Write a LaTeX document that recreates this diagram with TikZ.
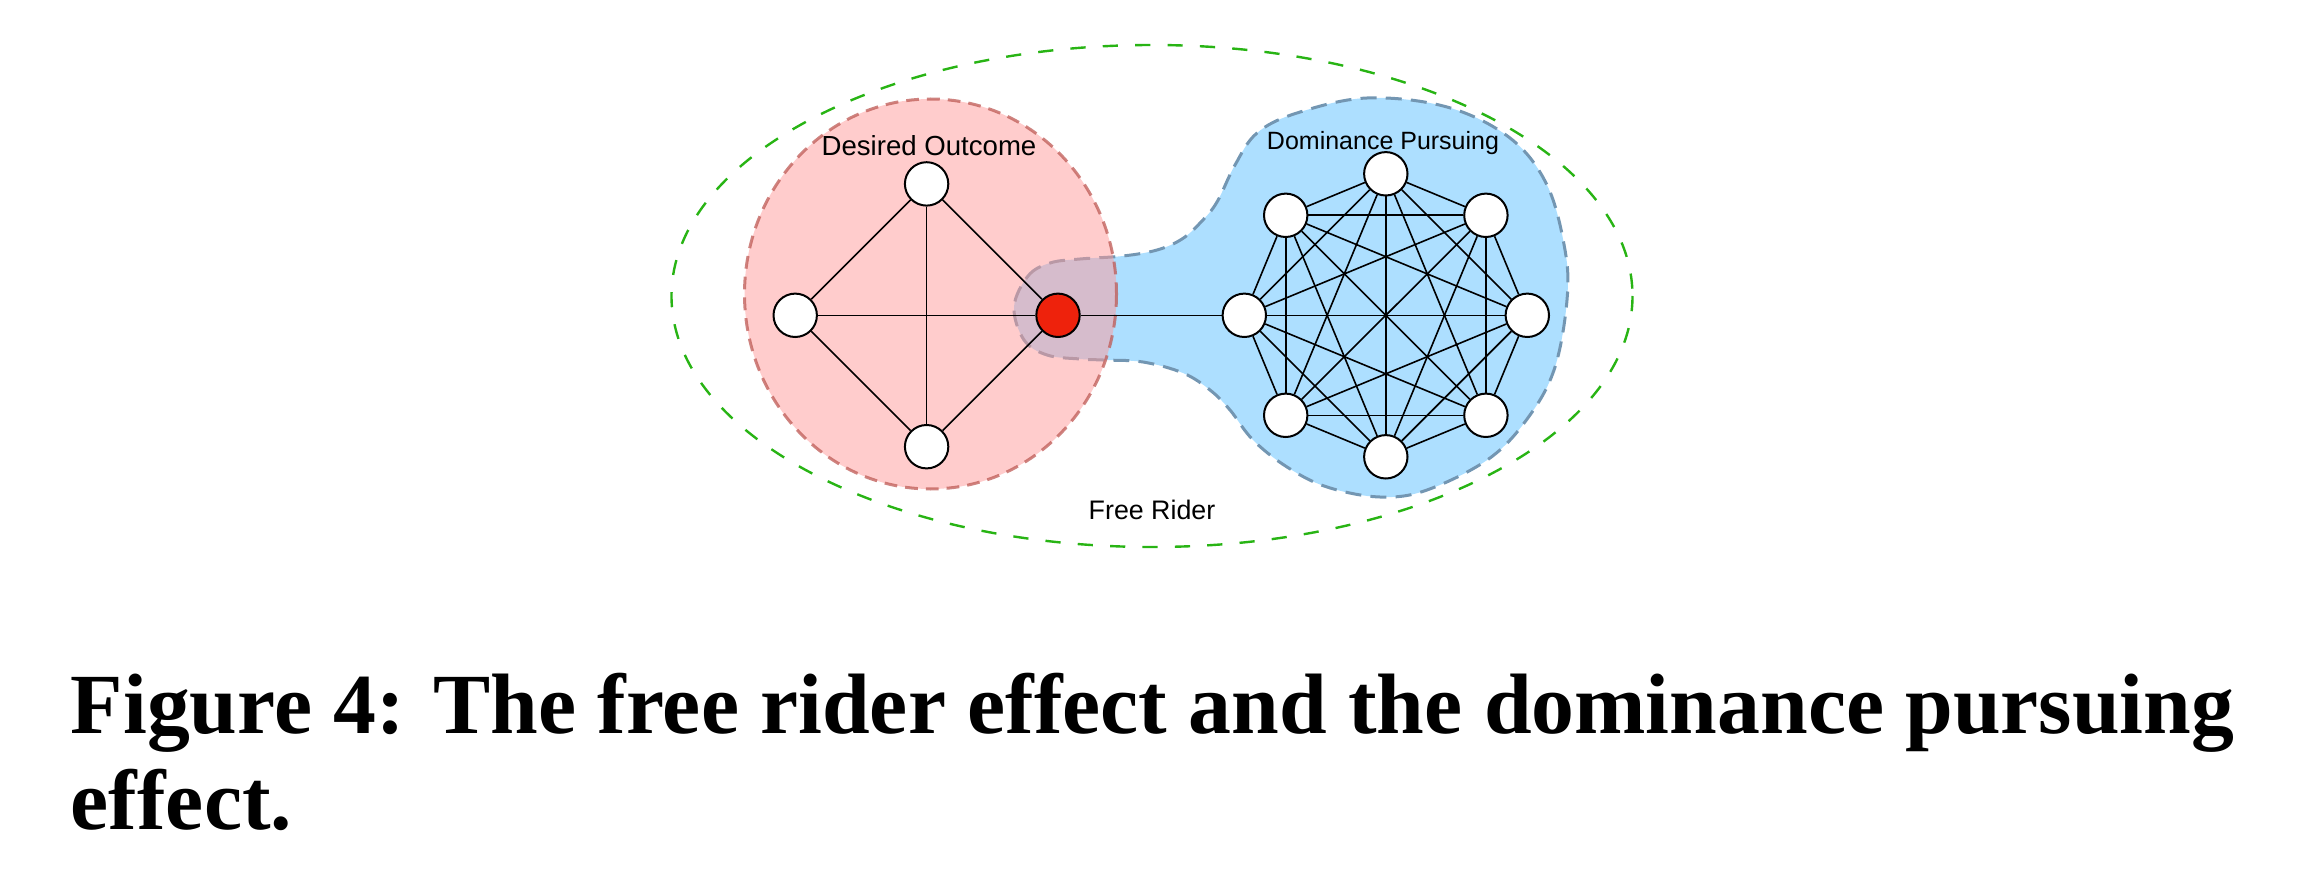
\documentclass[tikz,border=0pt]{standalone}
\usepackage{fontspec}
\setmainfont{Liberation Serif}
\newfontfamily\labelfont{Liberation Sans}
\definecolor{pinkfill}{RGB}{255,154,154}
\definecolor{pinkline}{RGB}{190,90,85}
\definecolor{bluefill}{RGB}{173,223,255}
\definecolor{blueline}{RGB}{115,150,178}
\definecolor{greenline}{RGB}{40,180,20}
\definecolor{rednode}{RGB}{238,34,12}
\begin{document}
\begin{tikzpicture}[x=0.25pt,y=-0.25pt,
  vtx/.style={circle,draw=black,fill=white,line width=0.5pt,minimum size=10.85pt,inner sep=0pt},
  edgeline/.style={line width=0.4pt,draw=black},
  pinkregion/.style={line width=0.75pt,dash pattern=on 3.2pt off 2pt},
  blueregion/.style={line width=0.75pt,dash pattern=on 4pt off 2.3pt},
  lbl/.style={anchor=base,inner sep=0pt,text=black},
  captxt/.style={anchor=base west,inner sep=0pt,font=\bfseries\fontsize{21.43}{26}\selectfont}]
\useasboundingbox (0,0) rectangle (2312,888);
% outer free-rider ellipse
\draw[greenline,line width=0.6pt,dash pattern=on 3.8pt off 4.3pt] (1152,296) ellipse [x radius=480.5, y radius=251];
% dominance pursuing blob
\path[fill=bluefill,draw=blueline,blueregion] plot[smooth cycle,tension=0.6] coordinates {
 (1014,307) (1028,276) (1050,263) (1080,259) (1123,256) (1157,250) (1182,239) (1201,222)
 (1217,202) (1235,165) (1257,133) (1297,113) (1367,98) (1447,107) (1510,138) (1547,185)
 (1565,250) (1567,300) (1555,367) (1530,415) (1490,458) (1427,490) (1380,497) (1327,487)
 (1287,467) (1253,440) (1230,410) (1210,390) (1183,373) (1143,362) (1103,360) (1080,359)
 (1047,355) (1024,340)};
% desired outcome circle
\path[fill=pinkfill,fill opacity=0.5,draw=pinkline,draw opacity=0.75,pinkregion] (930.5,294) ellipse [x radius=186, y radius=195];
% labels
\node[lbl,font=\labelfont\fontsize{6.9}{8}\selectfont] (lblDO) at (929,156) {Desired Outcome};
\node[lbl,font=\labelfont\fontsize{6.25}{7.5}\selectfont] (lblDP) at (1383,150) {Dominance Pursuing};
\node[lbl,font=\labelfont\fontsize{6.7}{8}\selectfont] (lblFR) at (1152,519) {Free Rider};
% diamond nodes
\node[vtx] (a1) at (926.6,183.9) {};
\node[vtx] (a2) at (795.2,315.3) {};
\node[vtx] (a3) at (926.6,446.7) {};
\node[vtx,fill=rednode] (a4) at (1058,315.3) {};
% octagon nodes
\node[vtx] (d1) at (1527.3,315.3) {};
\node[vtx] (d2) at (1485.9,215.3) {};
\node[vtx] (d3) at (1385.8,173.8) {};
\node[vtx] (d4) at (1285.7,215.3) {};
\node[vtx] (d5) at (1244.3,315.3) {};
\node[vtx] (d6) at (1285.7,415.3) {};
\node[vtx] (d7) at (1385.8,456.8) {};
\node[vtx] (d8) at (1485.9,415.3) {};
% edges
\foreach \i in {1,...,4}{\foreach \j in {\i,...,4}{\ifnum\i<\j \draw[edgeline] (a\i)--(a\j);\fi}}
\foreach \i in {1,...,8}{\foreach \j in {\i,...,8}{\ifnum\i<\j \draw[edgeline] (d\i)--(d\j);\fi}}
\draw[edgeline] (a4)--(d5);
% caption
\node[captxt] (cap1) at (70,733) {Figure 4: The free rider effect and the dominance pursuing};
\node[captxt] (cap2) at (70,829) {effect.};
\end{tikzpicture}
\end{document}
